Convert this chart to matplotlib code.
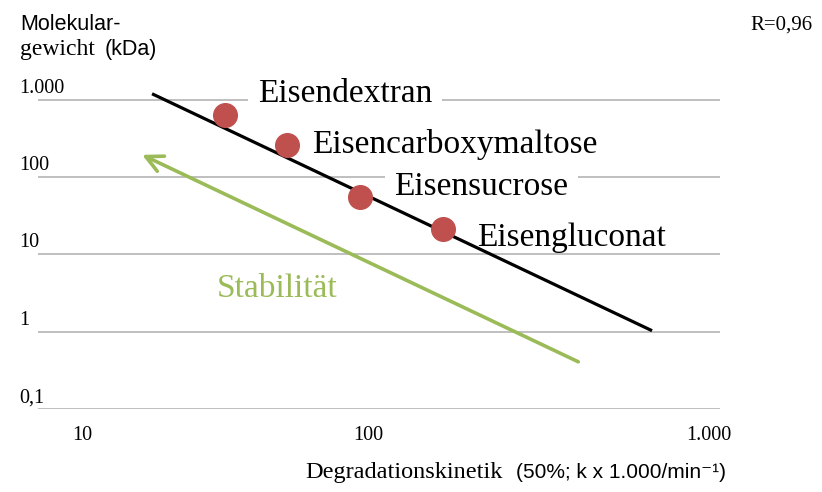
import matplotlib
matplotlib.use('Agg')
import matplotlib.pyplot as plt

# Iron preparations: degradation kinetics vs molecular weight (log-log)
names = ['Eisendextran', 'Eisencarboxymaltose', 'Eisensucrose', 'Eisengluconat']
kinetik = [35.3, 53.7, 88, 154]
gewicht = [640, 262, 56, 21.4]

# regression line end points
fit_x = [21.6, 632]
fit_y = [1196, 1.03]

# "Stabilität" arrow (tail -> head)
arrow_tail = (384, 0.408)
arrow_head = (20.2, 194)

y_ticks = [0.1, 1, 10, 100, 1000]
y_tick_labels = ['0,1', '1', '10', '100', '1.000']
x_ticks = [10, 100, 1000]
x_tick_labels = ['10', '100', '1.000']

# label anchors (left edge, baseline) in data units
label_x = [44.2, 63.7, 111, 194]
label_y = [942, 206, 59, 12.9]
label_box = [True, False, True, False]

W, H = 822, 492
SERIF = ['Liberation Serif', 'DejaVu Serif']
SANS = ['Liberation Sans', 'DejaVu Sans']
RED = '#C0504D'
GREEN = '#9BBB59'
GRID = '#B4B4B4'


def fx(px):
    return px / W


def fy(py):
    return 1 - py / H


def main():
    fig = plt.figure(figsize=(W / 100, H / 100), dpi=100)
    ax = fig.add_axes([fx(38), fy(409), 682 / W, 349 / H])
    ax.set_xscale('log')
    ax.set_yscale('log')
    ax.set_xlim(10, 1000)
    ax.set_ylim(0.1, 3270)
    ax.axis('off')

    # horizontal gridlines
    ax.hlines(y_ticks, 10, 1000, color=GRID, lw=1.2, zorder=0.5)

    # y tick labels sit just above their gridline
    for v, lab in zip(y_ticks, y_tick_labels):
        ax.annotate(lab, xy=(fx(19), v), xycoords=('figure fraction', 'data'),
                    xytext=(0, 5), textcoords='offset points',
                    ha='left', va='baseline', fontsize=14.5, family=SERIF)

    # x tick labels (Excel puts them a bit off the ticks)
    for px, lab in zip([82, 368, 709], x_tick_labels):
        fig.text(fx(px), fy(440), lab, ha='center', va='baseline',
                 fontsize=14.5, family=SERIF)

    # regression line and points
    ax.plot(fit_x, fit_y, color='black', lw=2.3, zorder=3, solid_capstyle='butt')
    ax.plot(kinetik, gewicht, 'o', ms=17, color=RED, zorder=4)

    for name, lx, ly, boxed in zip(names, label_x, label_y, label_box):
        bbox = dict(fc='white', ec='none', pad=7) if boxed else None
        ax.text(lx, ly, name, ha='left', va='baseline', fontsize=24,
                family=SERIF, bbox=bbox, zorder=2)

    # stability arrow
    ax.annotate('', xy=arrow_head, xytext=arrow_tail,
                arrowprops=dict(arrowstyle='->,head_length=1.2,head_width=0.6',
                                color=GREEN, lw=2.6, shrinkA=0, shrinkB=0),
                zorder=2.5)
    ax.text(33.5, 2.83, 'Stabilität', ha='left', va='baseline', fontsize=24,
            family=SERIF, color=GREEN)

    # axis titles (mixed fonts like the original slide)
    fig.text(fx(20), fy(30), 'Molekular-', fontsize=15.5, family=SANS, va='baseline')
    fig.text(fx(20), fy(55), 'gewicht', fontsize=17, family=SERIF, va='baseline')
    fig.text(fx(105), fy(55), '(kDa)', fontsize=15.5, family=SANS, va='baseline')
    fig.text(fx(305), fy(478), 'Degradationskinetik', fontsize=17.5, family=SERIF, va='baseline')
    fig.text(fx(516), fy(478), '(50%; k x 1.000/min\u207b\u00b9)', fontsize=15,
             family=SANS, va='baseline')
    fig.text(fx(750), fy(30), 'R=0,96', fontsize=15, family=SERIF, va='baseline')

    fig.savefig('out.png', dpi=100)
    plt.close(fig)


if __name__ == "__main__":
    main()
